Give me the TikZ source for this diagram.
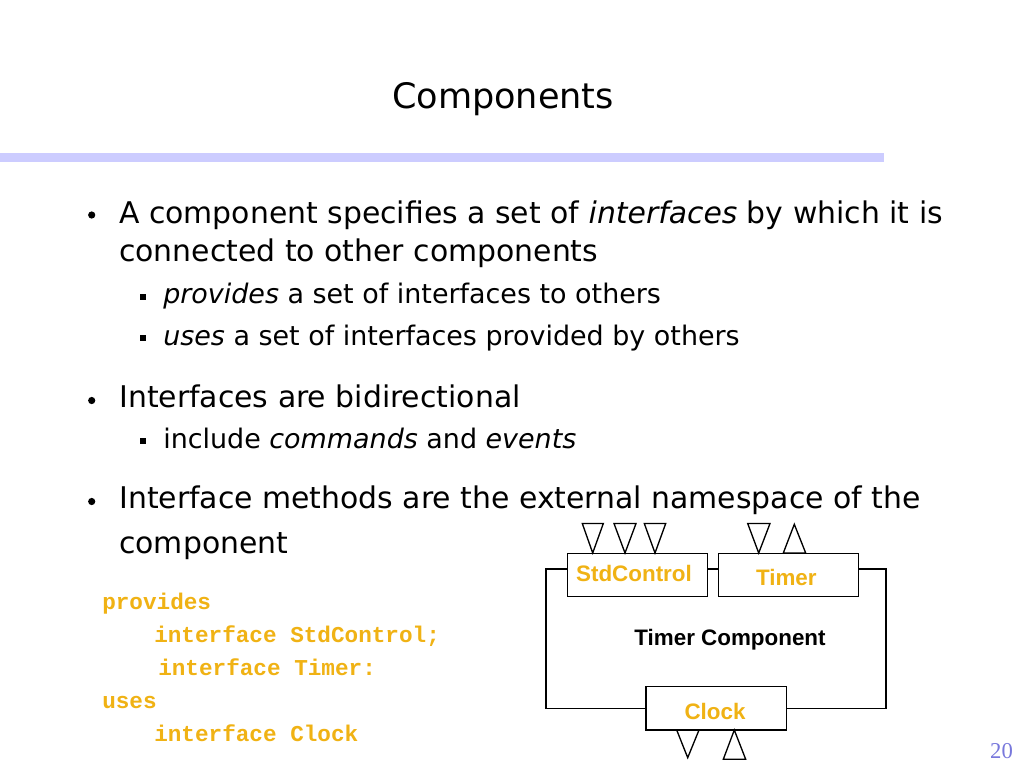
\documentclass[tikz,border=0pt]{standalone}
\usepackage{fontspec}
\setmainfont{DejaVu Sans}
\newfontfamily\labfont{Liberation Sans}
\newfontfamily\codefont{Liberation Mono}
\newfontfamily\numfont{Liberation Serif}
\definecolor{codeor}{RGB}{240,178,20}
\definecolor{barblue}{RGB}{204,204,255}
\definecolor{numblue}{RGB}{120,120,220}
\begin{document}
\begin{tikzpicture}[x=0.75pt,y=-0.75pt,
  txt/.style={anchor=base west,inner sep=0pt,font=\fontsize{22.4}{26}\selectfont},
  subtxt/.style={anchor=base west,inner sep=0pt,font=\fontsize{20.2}{24}\selectfont},
  code/.style={anchor=base west,inner sep=0pt,text=codeor,font=\codefont\bfseries\fontsize{17}{20}\selectfont},
  ibox/.style={draw,line width=1pt,minimum width=105.3pt,minimum height=32.5pt,inner sep=0pt},
  lab/.style={anchor=base,inner sep=0pt,font=\labfont\bfseries\fontsize{16.8}{20}\selectfont},
  wire/.style={line width=1pt},
  tri/.style={line width=1pt,line join=miter}]
\useasboundingbox (0,0) rectangle (1024,768);
\fill[white] (0,0) rectangle (1024,768);
% title
\node[anchor=base,inner sep=0pt,font=\fontsize{26.3}{30}\selectfont] (title) at (503,108) {Components};
\fill[barblue] (0,153) rectangle (884,162);
% bullets
\fill (91.7,215) circle (3.6);
\fill (91.7,400.5) circle (3.6);
\fill (91.7,501.5) circle (3.6);
\fill (140,293.5) rectangle (146,299.5);
\fill (140,335) rectangle (146,341);
\fill (140,437.5) rectangle (146,443.5);
% body text
\node[txt] (l1) at (119,223) {A component specifies a set of \textit{interfaces} by which it is};
\node[txt] (l2) at (119,261) {connected to other components};
\node[subtxt] (s1) at (163,303.5) {\textit{provides} a set of interfaces to others};
\node[subtxt] (s2) at (163,345) {\textit{uses} a set of interfaces provided by others};
\node[txt] (b2) at (119,407) {Interfaces are bidirectional};
\node[subtxt] (s3) at (163,448) {include \textit{commands} and \textit{events}};
\node[txt] (b3) at (119,508) {Interface methods are the external namespace of the};
\node[txt] (b3b) at (119,553) {component};
% code
\node[code] (c1) at (102,609) {provides};
\node[code] (c2) at (154,642) {interface StdControl;};
\node[code] (c3) at (158,675) {interface Timer:};
\node[code] (c4) at (102,708) {uses};
\node[code] (c5) at (154,741) {interface Clock};
% diagram
\node[ibox] (stdbox) at (637.5,575) {};
\node[ibox] (timerbox) at (788.5,575) {};
\node[ibox] (clockbox) at (716.2,708.4) {};
\node[lab,text=codeor] (stdlab) at (634,581.7) {StdControl};
\node[lab,text=codeor] (timerlab) at (786.3,585.3) {Timer};
\node[lab,text=codeor] (clocklab) at (715,719.3) {Clock};
\node[lab] (complab) at (730,645) {Timer Component};
\coordinate (ytop) at (0,569);
\coordinate (xleft) at (546,0);
\coordinate (xright) at (886,0);
\draw[wire] (stdbox.west |- ytop) -- (xleft |- ytop) |- (clockbox.west);
\draw[wire] (stdbox.east |- ytop) -- (timerbox.west |- ytop);
\draw[wire] (timerbox.east |- ytop) -- (xright |- ytop) |- (clockbox.east);
% interface triangles
\draw[tri] (582.3,523.5) -- (603.3,523.5) -- (592.7,553) -- cycle;
\draw[tri] (614,523.5) -- (636,523.5) -- (625,553) -- cycle;
\draw[tri] (644.3,523.5) -- (665.7,523.5) -- (655,553) -- cycle;
\draw[tri] (747.7,523.5) -- (770,523.5) -- (758.7,553) -- cycle;
\draw[tri] (783.3,553) -- (805.7,553) -- (794.3,524.3) -- cycle;
\draw[tri] (676.7,730) -- (699,730) -- (687.7,757.7) -- cycle;
\draw[tri] (723.3,759.3) -- (745.7,759.3) -- (734.3,730) -- cycle;
% page number
\node[anchor=base,inner sep=0pt,text=numblue,font=\numfont\fontsize{17}{20}\selectfont] (pnum) at (1001.5,758) {20};
\end{tikzpicture}
\end{document}
